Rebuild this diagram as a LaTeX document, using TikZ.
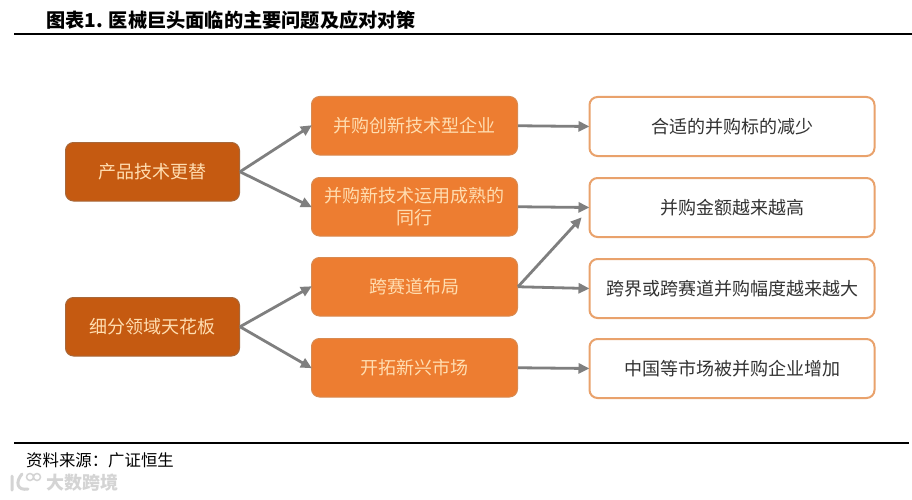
\documentclass[tikz,border=0pt]{standalone}
\usepackage{fontspec}
\newfontfamily\cjk{Noto Sans CJK SC}
\usetikzlibrary{arrows.meta}
\tikzset{
  x=1pt,y=-1pt,
  basebox/.style={rounded corners=8pt,anchor=north west,align=center,inner sep=0pt,font=\cjk\fontsize{18}{22}\selectfont},
  darkbox/.style={basebox,fill=darkorange,draw=darkedge,line width=1pt,text=paletext,minimum width=174pt,minimum height=58.5pt},
  midbox/.style={basebox,fill=midorange,draw=midedge,line width=1pt,text=paletext,minimum width=206pt,minimum height=58.5pt},
  rightbox/.style={basebox,fill=white,draw=rightedge,line width=2pt,text=black!80,minimum width=285pt,minimum height=59pt},
  conn/.style={draw=conngray,line width=2.8pt,-{Triangle[length=11pt,width=10pt]},shorten >=-1pt},
  rulebar/.style={draw=black,line width=2.2pt},
}
\definecolor{darkorange}{HTML}{C55A11}
\definecolor{darkedge}{HTML}{A8683A}
\definecolor{midorange}{HTML}{ED7D31}
\definecolor{midedge}{HTML}{D98A50}
\definecolor{rightedge}{HTML}{E9A26C}
\definecolor{paletext}{HTML}{FFDDB0}
\definecolor{conngray}{HTML}{7F7F7F}
\definecolor{markgray}{HTML}{D4D4D4}
\begin{document}
\begin{tikzpicture}
\useasboundingbox (0,0) rectangle (912,500);
\fill[white] (0,0) rectangle (912,500);
% title and rules
\node[anchor=west,inner sep=0pt,font=\cjk\bfseries\fontsize{19.2}{22}\selectfont] (title) at (46,20) {图表1. 医械巨头面临的主要问题及应对对策};
\coordinate (ruleTopL) at (14,34);
\coordinate (ruleTopR) at (912,34);
\draw[rulebar] (ruleTopL) -- (ruleTopR);
\coordinate (ruleBotL) at (14,443);
\coordinate (ruleBotR) at (909,443);
\draw[rulebar] (ruleBotL) -- (ruleBotR);
\node[anchor=west,inner sep=0pt,font=\cjk\fontsize{16.4}{19}\selectfont] (source) at (26,460) {资料来源：广证恒生};
% watermark
\node[anchor=west,inner sep=0pt,text=markgray,font=\cjk\bfseries\fontsize{18}{21}\selectfont] (mark) at (46,483) {大数跨境};
\draw[markgray,line width=3pt,line cap=round] (12,476) -- (12,490) (22,474) .. controls (15,482) and (17,491) .. (28,489);
\draw[markgray,line width=1.5pt] (30,477) circle (3.5) (37,477) circle (3.5);
% boxes
\node[darkbox] (a1) at (65,142) {产品技术更替};
\node[darkbox] (a2) at (65,297) {细分领域天花板};
\node[midbox] (b1) at (311,96) {并购创新技术型企业};
\node[midbox] (b2) at (311,177) {并购新技术运用成熟的\\同行};
\node[midbox] (b3) at (311,257) {跨赛道布局};
\node[midbox] (b4) at (311,338) {开拓新兴市场};
\node[rightbox] (c1) at (588.5,96) {合适的并购标的减少};
\node[rightbox] (c2) at (588.5,177) {并购金额越来越高};
\node[rightbox] (c3) at (588.5,258) {跨界或跨赛道并购幅度越来越大};
\node[rightbox] (c4) at (588.5,338) {中国等市场被并购企业增加};
% connectors
\coordinate (free) at (581,218);
\draw[conn] (a1.east) -- (b1.west);
\draw[conn] (a1.east) -- (b2.west);
\draw[conn] (a2.east) -- (b3.west);
\draw[conn] (a2.east) -- (b4.west);
\draw[conn] (b1.east) -- (c1.west);
\draw[conn] (b2.east) -- (c2.west);
\draw[conn] (b3.east) -- (free);
\draw[conn] (b3.east) -- (c3.west);
\draw[conn] (b4.east) -- (c4.west);
\end{tikzpicture}
\end{document}
